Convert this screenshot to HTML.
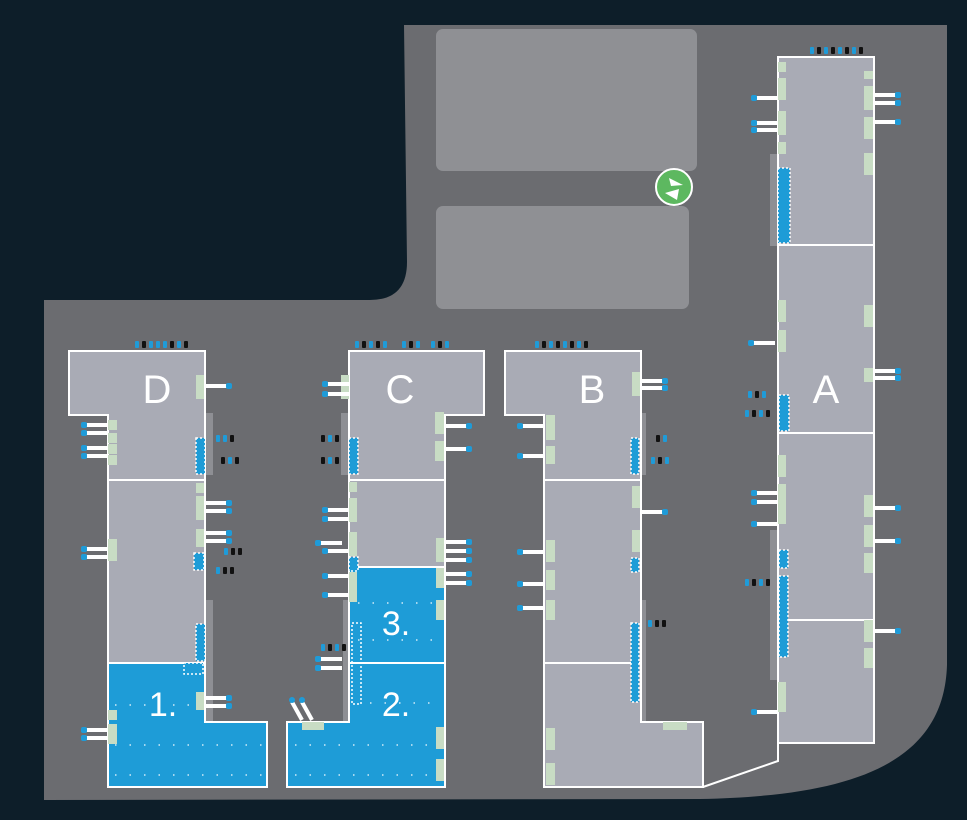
<!DOCTYPE html>
<html><head><meta charset="utf-8"><style>
html,body{margin:0;padding:0;background:#0d1e29;}
svg{display:block}
text{font-family:"Liberation Sans",sans-serif;fill:#fff;}
</style></head><body>
<svg width="967" height="820" viewBox="0 0 967 820" xmlns="http://www.w3.org/2000/svg">
<defs>
<g id="tr"><rect x="0" y="-2" width="22" height="4" fill="#fff"/><rect x="21" y="-3" width="6" height="6" rx="2" fill="#1f9bd8"/></g>
<g id="tl"><rect x="-22" y="-2" width="22" height="4" fill="#fff"/><rect x="-27" y="-3" width="6" height="6" rx="2" fill="#1f9bd8"/></g>
<rect id="cb" width="4" height="7" rx="1" fill="#1f9bd8"/>
<rect id="ck" width="4" height="7" rx="1" fill="#111"/>
</defs>
<rect width="967" height="820" fill="#0d1e29"/>
<path d="M404,25 L947,25 L947,665 C944,760 860,796 700,799 L44,800 L44,300 L370,300 Q407,300 407,262 Z" fill="#6b6c70"/>
<rect x="436" y="29" width="261" height="142" rx="7" fill="#8f9094"/>
<rect x="436" y="206" width="253" height="103" rx="7" fill="#8f9094"/>
<circle cx="674" cy="187" r="18" fill="#5db860" stroke="#fff" stroke-width="2"/>
<path d="M669,178 L683,185 L671,186 Z M679,189 L665,193 L677,200 Z" fill="#fff"/>

<g fill="#8e8f94">
<rect x="205" y="413" width="8" height="62"/><rect x="205" y="600" width="8" height="122"/>
<rect x="341" y="413" width="8" height="62"/><rect x="343" y="600" width="8" height="122"/>
<rect x="638" y="413" width="8" height="62"/><rect x="638" y="600" width="8" height="122"/>
<rect x="770" y="154" width="8" height="92"/><rect x="770" y="530" width="8" height="150"/>
</g>

<path d="M69,351 H205 V722 H267 V787 H108 V415 H69 Z" fill="#a9abb5"/>
<path d="M108,663 H205 V722 H267 V787 H108 Z" fill="#1e9cd7"/>
<path d="M69,351 H205 V722 H267 V787 H108 V415 H69 Z" fill="none" stroke="#fff" stroke-width="2"/>
<path d="M108,480 H205 M108,663 H205" stroke="#fff" stroke-width="2"/>
<path d="M349,351 H484 V415 H445 V787 H287 V722 H349 Z" fill="#a9abb5"/>
<path d="M349,567 H445 V787 H287 V722 H349 Z" fill="#1e9cd7"/>
<path d="M349,351 H484 V415 H445 V787 H287 V722 H349 Z" fill="none" stroke="#fff" stroke-width="2"/>
<path d="M349,480 H445 M349,567 H445 M349,663 H445" stroke="#fff" stroke-width="2"/>
<path d="M505,351 H641 V722 H703 V787 H544 V415 H505 Z" fill="#a9abb5" stroke="#fff" stroke-width="2"/>
<path d="M544,480 H641 M544,663 H641" stroke="#fff" stroke-width="2"/>
<path d="M703,787 L778,761 V743" fill="none" stroke="#fff" stroke-width="2"/>
<rect x="778" y="57" width="96" height="686" fill="#a9abb5" stroke="#fff" stroke-width="2"/>
<path d="M778,245 H874 M778,433 H874 M778,620 H874" stroke="#fff" stroke-width="2"/>

<g opacity="0.8" stroke="#fff" stroke-width="1.5" stroke-dasharray="1.5 13" fill="none">
<path d="M115,705 h85"/>
<path d="M115,745 h150 M115,775 h150"/>
<path d="M295,745 h145 M295,775 h145 M370,703 h70 M358,640 h85 M358,603 h85"/>
</g>

<g fill="#1e9cd7" stroke="#fff" stroke-width="1.5" stroke-dasharray="2 2">
<rect x="196" y="438" width="9" height="36"/><rect x="194" y="553" width="10" height="17"/><rect x="196" y="624" width="9" height="37"/>
<rect x="184" y="663" width="19" height="11"/>
<rect x="349" y="438" width="9" height="36"/><rect x="349" y="557" width="9" height="14"/>
<rect x="352" y="623" width="9" height="81" fill="none"/>
<rect x="631" y="438" width="8" height="36"/><rect x="631" y="558" width="8" height="14"/><rect x="631" y="623" width="8" height="79"/>
<rect x="778" y="168" width="12" height="75"/><rect x="779" y="395" width="10" height="36"/>
<rect x="779" y="550" width="9" height="18"/><rect x="779" y="576" width="9" height="81"/>
</g>

<g fill="#c8dcc4">
<rect x="196" y="375" width="8" height="24"/><rect x="108" y="420" width="9" height="10"/><rect x="108" y="433" width="9" height="10"/><rect x="108" y="444" width="9" height="10"/><rect x="108" y="455" width="9" height="10"/>
<rect x="196" y="483" width="8" height="10"/><rect x="196" y="496" width="8" height="24"/><rect x="196" y="529" width="8" height="18"/><rect x="108" y="539" width="9" height="22"/>
<rect x="196" y="692" width="8" height="18"/><rect x="108" y="710" width="9" height="10"/><rect x="108" y="724" width="9" height="20"/>
<rect x="341" y="375" width="8" height="24"/><rect x="435" y="412" width="9" height="22"/><rect x="435" y="441" width="9" height="20"/>
<rect x="349" y="482" width="8" height="10"/><rect x="349" y="498" width="8" height="24"/><rect x="349" y="532" width="8" height="24"/>
<rect x="436" y="538" width="8" height="24"/><rect x="436" y="568" width="8" height="20"/><rect x="349" y="572" width="8" height="30"/><rect x="436" y="600" width="8" height="20"/>
<rect x="302" y="722" width="22" height="8"/><rect x="436" y="727" width="8" height="22"/><rect x="436" y="759" width="8" height="22"/>
<rect x="632" y="372" width="8" height="24"/><rect x="546" y="415" width="9" height="25"/><rect x="546" y="446" width="9" height="18"/>
<rect x="632" y="486" width="8" height="22"/><rect x="632" y="530" width="8" height="22"/><rect x="546" y="540" width="9" height="22"/><rect x="546" y="570" width="9" height="20"/><rect x="546" y="600" width="9" height="20"/>
<rect x="663" y="722" width="24" height="8"/><rect x="546" y="728" width="9" height="22"/><rect x="546" y="763" width="9" height="22"/>
<rect x="778" y="62" width="8" height="10"/><rect x="778" y="78" width="8" height="22"/><rect x="778" y="111" width="8" height="24"/><rect x="778" y="142" width="8" height="12"/>
<rect x="864" y="71" width="9" height="8"/><rect x="864" y="86" width="9" height="24"/><rect x="864" y="117" width="9" height="22"/><rect x="864" y="153" width="9" height="22"/>
<rect x="778" y="300" width="8" height="22"/><rect x="778" y="330" width="8" height="22"/><rect x="864" y="305" width="9" height="22"/><rect x="864" y="368" width="9" height="14"/>
<rect x="778" y="455" width="8" height="22"/><rect x="778" y="484" width="8" height="40"/><rect x="864" y="495" width="9" height="22"/><rect x="864" y="525" width="9" height="22"/><rect x="864" y="553" width="9" height="20"/>
<rect x="864" y="620" width="9" height="22"/><rect x="864" y="648" width="9" height="20"/><rect x="778" y="682" width="8" height="30"/>
</g>

<use href="#tr" x="205" y="386"/>
<use href="#tl" x="108" y="425"/><use href="#tl" x="108" y="433"/><use href="#tl" x="108" y="448"/><use href="#tl" x="108" y="456"/>
<use href="#tr" x="205" y="503"/><use href="#tr" x="205" y="511"/><use href="#tr" x="205" y="533"/><use href="#tr" x="205" y="541"/>
<use href="#tl" x="108" y="549"/><use href="#tl" x="108" y="557"/>
<use href="#tr" x="205" y="698"/><use href="#tr" x="205" y="706"/>
<use href="#tl" x="108" y="730"/><use href="#tl" x="108" y="738"/>
<use href="#tl" x="349" y="384"/><use href="#tl" x="349" y="394"/>
<use href="#tr" x="445" y="426"/><use href="#tr" x="445" y="449"/>
<use href="#tl" x="349" y="510"/><use href="#tl" x="349" y="519"/>
<use href="#tl" x="342" y="543"/><use href="#tl" x="349" y="551"/><use href="#tl" x="349" y="576"/><use href="#tl" x="349" y="595"/>
<use href="#tr" x="445" y="542"/><use href="#tr" x="445" y="551"/><use href="#tr" x="445" y="560"/><use href="#tr" x="445" y="574"/><use href="#tr" x="445" y="583"/>
<use href="#tl" x="342" y="659"/><use href="#tl" x="342" y="668"/>
<path d="M292,702 L302,720 M302,702 L312,720" stroke="#fff" stroke-width="4"/>
<circle cx="292" cy="700" r="3" fill="#1f9bd8"/><circle cx="302" cy="700" r="3" fill="#1f9bd8"/>
<use href="#tr" x="641" y="381"/><use href="#tr" x="641" y="388"/>
<use href="#tl" x="544" y="426"/><use href="#tl" x="544" y="456"/>
<use href="#tr" x="641" y="512"/>
<use href="#tl" x="544" y="552"/><use href="#tl" x="544" y="584"/><use href="#tl" x="544" y="608"/>
<use href="#tl" x="778" y="98"/><use href="#tl" x="778" y="123"/><use href="#tl" x="778" y="130"/>
<use href="#tl" x="775" y="343"/>
<use href="#tl" x="778" y="493"/><use href="#tl" x="778" y="502"/><use href="#tl" x="778" y="524"/>
<use href="#tl" x="778" y="712"/>
<use href="#tr" x="874" y="95"/><use href="#tr" x="874" y="103"/><use href="#tr" x="874" y="122"/>
<use href="#tr" x="874" y="371"/><use href="#tr" x="874" y="378"/>
<use href="#tr" x="874" y="508"/><use href="#tr" x="874" y="541"/><use href="#tr" x="874" y="631"/>

<g>
<use href="#cb" x="135" y="341"/><use href="#ck" x="142" y="341"/><use href="#cb" x="149" y="341"/><use href="#cb" x="156" y="341"/><use href="#cb" x="163" y="341"/><use href="#ck" x="170" y="341"/><use href="#cb" x="177" y="341"/><use href="#ck" x="184" y="341"/>
<use href="#cb" x="355" y="341"/><use href="#ck" x="362" y="341"/><use href="#cb" x="369" y="341"/><use href="#ck" x="376" y="341"/><use href="#cb" x="383" y="341"/><use href="#cb" x="402" y="341"/><use href="#ck" x="409" y="341"/><use href="#cb" x="416" y="341"/><use href="#cb" x="431" y="341"/><use href="#ck" x="438" y="341"/><use href="#cb" x="445" y="341"/>
<use href="#cb" x="535" y="341"/><use href="#ck" x="542" y="341"/><use href="#cb" x="549" y="341"/><use href="#ck" x="556" y="341"/><use href="#cb" x="563" y="341"/><use href="#ck" x="570" y="341"/><use href="#cb" x="577" y="341"/><use href="#ck" x="584" y="341"/>
<use href="#cb" x="810" y="47"/><use href="#ck" x="817" y="47"/><use href="#cb" x="824" y="47"/><use href="#ck" x="831" y="47"/><use href="#cb" x="838" y="47"/><use href="#ck" x="845" y="47"/><use href="#cb" x="852" y="47"/><use href="#ck" x="859" y="47"/>
<use href="#cb" x="216" y="435"/><use href="#cb" x="223" y="435"/><use href="#ck" x="230" y="435"/>
<use href="#ck" x="221" y="457"/><use href="#cb" x="228" y="457"/><use href="#ck" x="235" y="457"/>
<use href="#cb" x="224" y="548"/><use href="#ck" x="231" y="548"/><use href="#ck" x="238" y="548"/>
<use href="#cb" x="216" y="567"/><use href="#ck" x="223" y="567"/><use href="#ck" x="230" y="567"/>
<use href="#ck" x="321" y="435"/><use href="#cb" x="328" y="435"/><use href="#ck" x="335" y="435"/>
<use href="#ck" x="321" y="457"/><use href="#cb" x="328" y="457"/><use href="#ck" x="335" y="457"/>
<use href="#cb" x="321" y="644"/><use href="#ck" x="328" y="644"/><use href="#cb" x="335" y="644"/><use href="#ck" x="342" y="644"/>
<use href="#ck" x="656" y="435"/><use href="#cb" x="663" y="435"/>
<use href="#cb" x="651" y="457"/><use href="#ck" x="658" y="457"/><use href="#cb" x="665" y="457"/>
<use href="#cb" x="648" y="620"/><use href="#ck" x="655" y="620"/><use href="#ck" x="662" y="620"/>
<use href="#cb" x="748" y="391"/><use href="#ck" x="755" y="391"/><use href="#cb" x="762" y="391"/>
<use href="#cb" x="745" y="410"/><use href="#ck" x="752" y="410"/><use href="#cb" x="759" y="410"/><use href="#ck" x="766" y="410"/>
<use href="#cb" x="745" y="579"/><use href="#ck" x="752" y="579"/><use href="#cb" x="759" y="579"/><use href="#ck" x="766" y="579"/>
</g>

<g font-size="40" text-anchor="middle">
<text x="157" y="403">D</text>
<text x="400" y="403">C</text>
<text x="592" y="403">B</text>
<text x="826" y="403">A</text>
<text x="163" y="716" font-size="34">1.</text>
<text x="396" y="716" font-size="34">2.</text>
<text x="396" y="635" font-size="34">3.</text>
</g>
</svg>
</body></html>
